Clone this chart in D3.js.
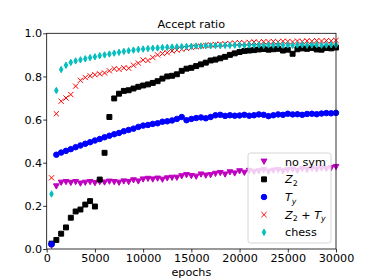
<!DOCTYPE html>
<html>
<head>
<meta charset="utf-8">
<script src="https://cdn.jsdelivr.net/npm/d3@7"></script>
<style>
  body { margin: 0; background: #fff; }
  text { font-family: "DejaVu Sans", sans-serif; fill: #000; }
</style>
</head>
<body>
<div id="chart"></div>
<script>
const width = 374;
const height = 280;
const margin = { top: 33.3, right: 38, bottom: 31, left: 46.7 };

const epochs = [
  500, 1000, 1500, 2000, 2500, 3000, 3500, 4000, 4500, 5000,
  5500, 6000, 6500, 7000, 7500, 8000, 8500, 9000, 9500, 10000,
  10500, 11000, 11500, 12000, 12500, 13000, 13500, 14000, 14500, 15000,
  15500, 16000, 16500, 17000, 17500, 18000, 18500, 19000, 19500, 20000,
  20500, 21000, 21500, 22000, 22500, 23000, 23500, 24000, 24500, 25000,
  25500, 26000, 26500, 27000, 27500, 28000, 28500, 29000, 29500, 30000,
];

const noSym = [
  0.015, 0.29, 0.307, 0.31, 0.306, 0.31, 0.303, 0.307, 0.31, 0.305,
  0.31, 0.308, 0.312, 0.31, 0.307, 0.313, 0.31, 0.318, 0.313, 0.322,
  0.325, 0.322, 0.326, 0.321, 0.327, 0.33, 0.33, 0.337, 0.342, 0.338,
  0.335, 0.345, 0.34, 0.342, 0.348, 0.352, 0.345, 0.355, 0.35, 0.36,
  0.353, 0.362, 0.357, 0.36, 0.365, 0.358, 0.363, 0.366, 0.36, 0.365,
  0.368, 0.362, 0.37, 0.366, 0.372, 0.368, 0.373, 0.37, 0.375, 0.38,
];

const z2 = [
  0.025, 0.042, 0.071, 0.1, 0.145, 0.174, 0.183, 0.206, 0.222, 0.197,
  0.322, 0.446, 0.612, 0.698, 0.72, 0.733, 0.736, 0.744, 0.752, 0.758,
  0.763, 0.77, 0.778, 0.79, 0.8, 0.803, 0.81, 0.826, 0.836, 0.84,
  0.848, 0.856, 0.864, 0.874, 0.878, 0.884, 0.891, 0.9, 0.907, 0.913,
  0.918, 0.92, 0.922, 0.925, 0.927, 0.924, 0.926, 0.928, 0.92, 0.924,
  0.905, 0.926, 0.93, 0.928, 0.932, 0.925, 0.924, 0.932, 0.93, 0.934,
];

const ty = [
  0.022, 0.437, 0.447, 0.455, 0.463, 0.472, 0.48, 0.488, 0.495, 0.503,
  0.51, 0.518, 0.525, 0.532, 0.538, 0.546, 0.552, 0.558, 0.566, 0.572,
  0.575, 0.58, 0.583, 0.59, 0.592, 0.596, 0.603, 0.612, 0.597, 0.603,
  0.607, 0.61, 0.606, 0.612, 0.62, 0.622, 0.617, 0.62, 0.618, 0.619,
  0.622, 0.618, 0.62, 0.624, 0.622, 0.616, 0.62, 0.624, 0.622, 0.627,
  0.624, 0.625, 0.622, 0.626, 0.627, 0.625, 0.628, 0.63, 0.629, 0.631,
];

const z2ty = [
  0.33, 0.627, 0.685, 0.7, 0.716, 0.755, 0.782, 0.795, 0.803, 0.808,
  0.812, 0.816, 0.826, 0.836, 0.833, 0.84, 0.838, 0.852, 0.862, 0.876,
  0.874, 0.888, 0.9, 0.906, 0.91, 0.918, 0.922, 0.926, 0.93, 0.934,
  0.938, 0.94, 0.944, 0.946, 0.948, 0.95, 0.951, 0.953, 0.955, 0.957,
  0.955, 0.958, 0.96, 0.958, 0.961, 0.96, 0.962, 0.96, 0.963, 0.962,
  0.96, 0.964, 0.962, 0.965, 0.963, 0.966, 0.964, 0.966, 0.965, 0.967,
];

const chess = [
  0.255, 0.735, 0.832, 0.852, 0.865, 0.872, 0.877, 0.882, 0.887, 0.891,
  0.896, 0.9, 0.904, 0.908, 0.912, 0.916, 0.919, 0.922, 0.925, 0.927,
  0.929, 0.931, 0.932, 0.934, 0.935, 0.936, 0.937, 0.938, 0.939, 0.94,
  0.941, 0.941, 0.942, 0.942, 0.943, 0.943, 0.944, 0.944, 0.945, 0.945,
  0.944, 0.946, 0.945, 0.946, 0.944, 0.946, 0.945, 0.947, 0.945, 0.946,
  0.944, 0.946, 0.947, 0.945, 0.946, 0.947, 0.945, 0.946, 0.947, 0.946,
];

const xTicks = [0, 5000, 10000, 15000, 20000, 25000, 30000];
const yTicks = [0.0, 0.2, 0.4, 0.6, 0.8, 1.0];

// series in drawing order, label parts: [text, italic?, subscript?]
const series = [
  { values: noSym, color: "#bf00bf", marker: "v", label: [["no sym", false, false]] },
  { values: z2, color: "#000000", marker: "s", label: [["Z", true, false], ["2", false, true]] },
  { values: ty, color: "#0000ff", marker: "o", label: [["T", true, false], ["y", true, true]] },
  { values: z2ty, color: "#ff0000", marker: "x",
    label: [["Z", true, false], ["2", false, true], [" + ", false, false], ["T", true, false], ["y", true, true]] },
  { values: chess, color: "#00bfbf", marker: "d", label: [["chess", false, false]] },
];

const ms = 5.8;
const fs = 11.2;

function markerPath(type, s) {
  const h = s / 2;
  if (type === "v") return `M${-h},${-h * 0.9}L${h},${-h * 0.9}L0,${h * 0.9}Z`;
  if (type === "s") return `M${-h * 0.85},${-h * 0.85}h${s * 0.85}v${s * 0.85}h${-s * 0.85}Z`;
  if (type === "o") return d3.arc()({ innerRadius: 0, outerRadius: h * 0.95, startAngle: 0, endAngle: 2 * Math.PI });
  if (type === "x") return `M${-h * 0.9},${-h * 0.9}L${h * 0.9},${h * 0.9}M${-h * 0.9},${h * 0.9}L${h * 0.9},${-h * 0.9}`;
  if (type === "d") return `M0,${-h * 1.1}L${h * 0.6},0L0,${h * 1.1}L${-h * 0.6},0Z`;
}

function drawMarker(g, type, color) {
  g.append("path")
    .attr("d", markerPath(type, ms))
    .attr("fill", type === "x" ? "none" : color)
    .attr("stroke", color)
    .attr("stroke-width", 1);
}

let svg = d3
  .select("#chart")
  .append("svg")
  .attr("width", width)
  .attr("height", height);

let xScale = d3
  .scaleLinear()
  .domain([0, 30000])
  .range([margin.left, width - margin.right]);

let yScale = d3
  .scaleLinear()
  .domain([0, 1])
  .range([height - margin.bottom, margin.top]);

// points
series.forEach((s) => {
  svg
    .append("g")
    .selectAll("g")
    .data(s.values)
    .enter()
    .append("g")
    .attr("transform", (d, i) => `translate(${xScale(epochs[i])},${yScale(d)})`)
    .each(function () {
      drawMarker(d3.select(this), s.marker, s.color);
    });
});

// axes
const xAxis = svg
  .append("g")
  .attr("transform", `translate(0, ${height - margin.bottom})`)
  .call(d3.axisBottom(xScale).tickValues(xTicks).tickFormat(d3.format("d")).tickSize(3.5).tickPadding(2));

const yAxis = svg
  .append("g")
  .attr("transform", `translate(${margin.left}, 0)`)
  .call(d3.axisLeft(yScale).tickValues(yTicks).tickFormat(d3.format(".1f")).tickSize(3.5).tickPadding(1));

[xAxis, yAxis].forEach((a) => {
  a.select(".domain").remove();
  a.selectAll("line").attr("stroke", "#000").attr("stroke-width", 0.8);
  a.selectAll("text").attr("font-size", fs).attr("font-family", "DejaVu Sans").attr("fill", "#000");
});

// frame
svg
  .append("rect")
  .attr("x", margin.left)
  .attr("y", margin.top)
  .attr("width", width - margin.left - margin.right)
  .attr("height", height - margin.top - margin.bottom)
  .attr("fill", "none")
  .attr("stroke", "#000")
  .attr("stroke-width", 0.8);

svg
  .append("text")
  .attr("x", (margin.left + width - margin.right) / 2)
  .attr("y", 27.5)
  .attr("text-anchor", "middle")
  .attr("font-size", fs)
  .text("Accept ratio");

svg
  .append("text")
  .attr("x", (margin.left + width - margin.right) / 2)
  .attr("y", 275.5)
  .attr("text-anchor", "middle")
  .attr("font-size", fs)
  .text("epochs");

// legend
const legend = svg.append("g");
legend
  .append("rect")
  .attr("x", 248)
  .attr("y", 153)
  .attr("width", 83)
  .attr("height", 90)
  .attr("rx", 2.5)
  .attr("fill", "#fff")
  .attr("fill-opacity", 0.8)
  .attr("stroke", "#cccccc")
  .attr("stroke-width", 0.8);

series.forEach((s, i) => {
  const cy = 161.7 + i * 17.65;
  const m = legend.append("g").attr("transform", `translate(264,${cy})`);
  drawMarker(m, s.marker, s.color);
  const t = legend
    .append("text")
    .attr("x", 285)
    .attr("y", cy + 4)
    .attr("font-size", fs);
  let shifted = 0;
  s.label.forEach(([txt, it, sub]) => {
    const ts = t.append("tspan").text(txt).style("white-space", "pre");
    if (it) ts.attr("font-style", "italic");
    if (sub) {
      ts.attr("font-size", fs * 0.7).attr("dy", 2.6 - shifted);
      shifted = 2.6;
    } else {
      ts.attr("dy", -shifted);
      shifted = 0;
    }
  });
});
</script>
</body>
</html>
